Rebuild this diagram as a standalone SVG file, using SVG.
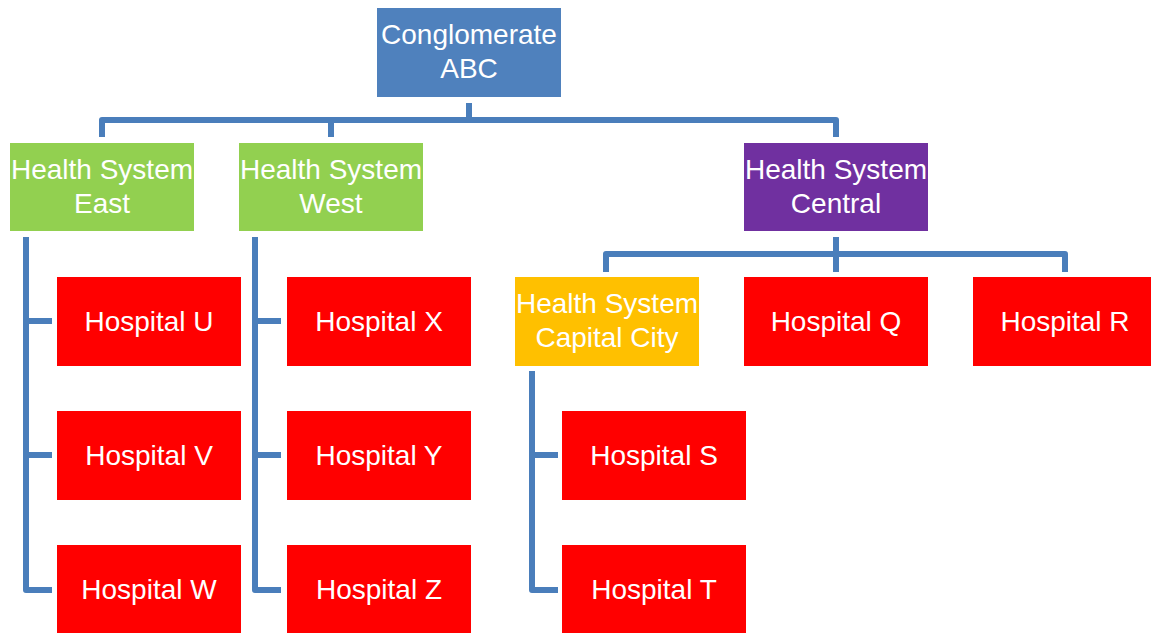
<svg xmlns="http://www.w3.org/2000/svg" width="1151" height="633" viewBox="0 0 1151 633">
<style>
text{font-family:"Liberation Sans",Arial,sans-serif;font-size:28px;fill:#fff;text-anchor:middle}
.c{fill:none;stroke:#4A7EBB;stroke-width:6;stroke-linejoin:round}
.blue{fill:#4F81BD}.green{fill:#92D050}.purple{fill:#7030A0}.gold{fill:#FFC000}.red{fill:#FF0000}
</style>
<rect width="1151" height="633" fill="#fff"/>
<g id="connectors">
<path class="c" d="M469 103V120M102 137V120H836V137M331 120V137"/>
<path class="c" d="M836 237V254M606 272V254H1065V272M836 254V272"/>
<path class="c" d="M26 237V590H52M26 321H52M26 455H52"/>
<path class="c" d="M255 237V590H281M255 321H281M255 455H281"/>
<path class="c" d="M532 371V590H558M532 455H558"/>
</g>
<g id="conglomerate"><rect class="blue" x="377" y="8" width="184" height="89"/><text x="469" y="44">Conglomerate</text><text x="469" y="78">ABC</text></g>
<g id="hs-east"><rect class="green" x="10" y="143" width="184" height="88"/><text x="102" y="179">Health System</text><text x="102" y="213">East</text></g>
<g id="hs-west"><rect class="green" x="239" y="143" width="184" height="88"/><text x="331" y="179">Health System</text><text x="331" y="213">West</text></g>
<g id="hs-central"><rect class="purple" x="744" y="143" width="184" height="88"/><text x="836" y="179">Health System</text><text x="836" y="213">Central</text></g>
<g id="hs-capital"><rect class="gold" x="515" y="277" width="184" height="89"/><text x="607" y="313">Health System</text><text x="607" y="347">Capital City</text></g>
<g id="hosp-u"><rect class="red" x="57" y="277" width="184" height="89"/><text x="149" y="331">Hospital U</text></g>
<g id="hosp-v"><rect class="red" x="57" y="411" width="184" height="89"/><text x="149" y="465">Hospital V</text></g>
<g id="hosp-w"><rect class="red" x="57" y="545" width="184" height="89"/><text x="149" y="599">Hospital W</text></g>
<g id="hosp-x"><rect class="red" x="287" y="277" width="184" height="89"/><text x="379" y="331">Hospital X</text></g>
<g id="hosp-y"><rect class="red" x="287" y="411" width="184" height="89"/><text x="379" y="465">Hospital Y</text></g>
<g id="hosp-z"><rect class="red" x="287" y="545" width="184" height="89"/><text x="379" y="599">Hospital Z</text></g>
<g id="hosp-q"><rect class="red" x="744" y="277" width="184" height="89"/><text x="836" y="331">Hospital Q</text></g>
<g id="hosp-r"><rect class="red" x="973" y="277" width="184" height="89"/><text x="1065" y="331">Hospital R</text></g>
<g id="hosp-s"><rect class="red" x="562" y="411" width="184" height="89"/><text x="654" y="465">Hospital S</text></g>
<g id="hosp-t"><rect class="red" x="562" y="545" width="184" height="89"/><text x="654" y="599">Hospital T</text></g>
</svg>
